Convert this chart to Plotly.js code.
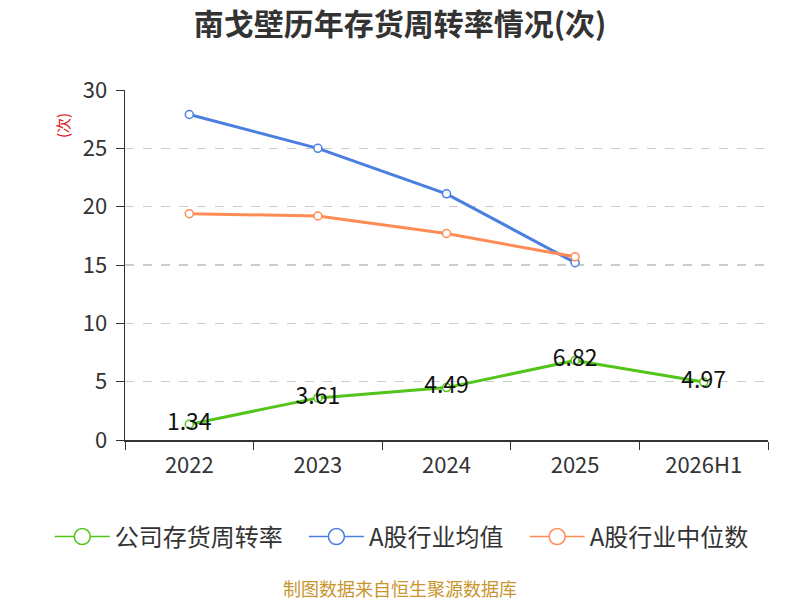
<!DOCTYPE html>
<html>
<head>
<meta charset="utf-8">
<script src="https://cdn.plot.ly/plotly-3.0.1.min.js"></script>
<style>html,body{margin:0;padding:0;background:#fff;}#chart{width:800px;height:600px;}</style>
</head>
<body>
<div id="chart"></div>
<script>
const categories = ["2022", "2023", "2024", "2025", "2026H1"];
const companyValues = [1.34, 3.61, 4.49, 6.82, 4.97];
const industryAvg = [27.9, 25.0, 21.1, 15.2];
const industryMedian = [19.4, 19.2, 17.7, 15.7];
const seriesNames = ["公司存货周转率", "A股行业均值", "A股行业中位数"];
const seriesColors = ["#52c41a", "#4a7fe0", "#ff8c55"];
const yTicks = [0, 5, 10, 15, 20, 25, 30];

const font = "'Noto Sans CJK SC', 'Noto Sans', sans-serif";
const mk = (c, s) => ({symbol: "circle", size: s, color: "#ffffff", line: {color: c, width: 1.5}});

const traces = [
  {
    x: categories, y: companyValues, name: seriesNames[0], type: "scatter", mode: "lines+markers+text",
    showlegend: false,
    line: {color: seriesColors[0], width: 3}, marker: mk(seriesColors[0], 8),
    text: companyValues.map(v => v.toFixed(2)), textposition: "middle center",
    textfont: {size: 23, color: "#111", family: font}
  },
  {
    x: categories.slice(0, industryAvg.length), y: industryAvg, name: seriesNames[1], type: "scatter", mode: "lines+markers",
    showlegend: false,
    line: {color: seriesColors[1], width: 3}, marker: mk(seriesColors[1], 8)
  },
  {
    x: categories.slice(0, industryMedian.length), y: industryMedian, name: seriesNames[2], type: "scatter", mode: "lines+markers",
    showlegend: false,
    line: {color: seriesColors[2], width: 3}, marker: mk(seriesColors[2], 8)
  }
];
// legend entries
const pad = "\u00a0\u00a0\u00a0";
seriesNames.forEach((n, i) => {
  traces.push({x: [null], y: [null], name: i < seriesNames.length - 1 ? n + pad : n, type: "scatter", mode: "lines+markers",
    line: {color: seriesColors[i], width: 1.5}, marker: mk(seriesColors[i], 18), showlegend: true});
});

const layout = {
  width: 800, height: 600,
  margin: {l: 125, r: 32, t: 90, b: 160},
  paper_bgcolor: "#fff", plot_bgcolor: "#fff",
  font: {family: font, color: "#333"},
  title: {text: "<b>南戈壁历年存货周转率情况(次)</b>", x: 0.5, xanchor: "center", y: 0.96, yanchor: "middle",
          font: {size: 30, color: "#333", family: font}},
  showlegend: true,
  legend: {orientation: "h", x: -0.117, xanchor: "left", y: -0.277, yanchor: "middle",
           font: {size: 24, color: "#333", family: font}, itemwidth: 55, traceorder: "normal"},
  xaxis: {
    type: "category", range: [-0.5, 4.5], showgrid: false, zeroline: false,
    showline: true, linecolor: "#333", linewidth: 1.5,
    ticks: "outside", ticklen: 8, tickcolor: "#333", tickson: "boundaries", ticklabelstandoff: 5,
    tickfont: {size: 22, color: "#333", family: font}
  },
  yaxis: {
    range: [0, 30], tickvals: yTicks, ticktext: yTicks.map(String),
    showgrid: true, gridcolor: "#cccccc", griddash: "dash", gridwidth: 1.5, zeroline: false,
    showline: true, linecolor: "#333", linewidth: 1.5,
    ticks: "outside", ticklen: 8, tickcolor: "#333", ticklabelstandoff: 4,
    tickfont: {size: 22, color: "#333", family: font}
  },
  annotations: [
    {text: "(次)", xref: "paper", yref: "paper", x: -0.098, y: 0.9, textangle: -90, showarrow: false,
     xanchor: "center", yanchor: "middle",
     font: {size: 15, color: "#e02020", family: font}},
    {text: "制图数据来自恒生聚源数据库", xref: "paper", yref: "paper", x: 0.428, y: -0.4229, showarrow: false,
     xanchor: "center", yanchor: "middle",
     font: {size: 18, color: "#c8952e", family: font}}
  ]
};

Plotly.newPlot("chart", traces, layout, {displayModeBar: false, staticPlot: true});
</script>
</body>
</html>
